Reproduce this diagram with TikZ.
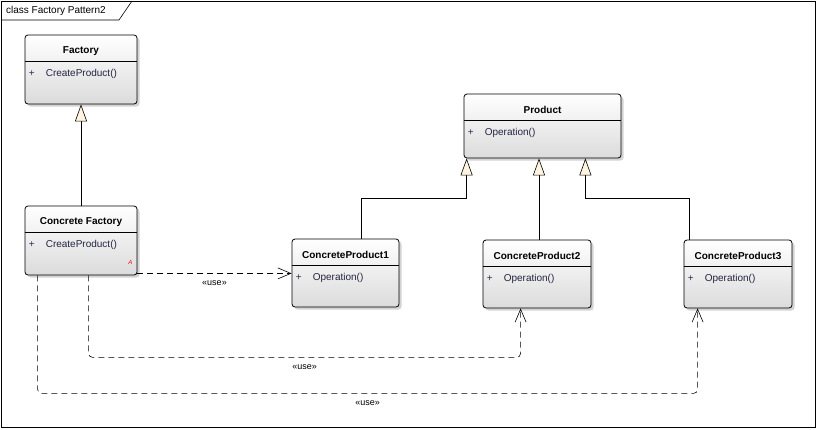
\documentclass[tikz,border=0pt]{standalone}
\usepackage{fontspec}
\setmainfont{Liberation Sans}
\usepackage{tikz}
\usetikzlibrary{positioning,arrows.meta,calc,shadows}

\definecolor{opcol}{RGB}{45,45,80}
\definecolor{cream}{RGB}{255,244,226}

% class box: name, centre x, centre y, width, height, title, operation
\newcommand{\classbox}[7]{%
  \node[cls, minimum width=#4pt, minimum height=#5pt] (#1) at (#2,#3) {};
  \node[clstitle] (#1-t) at ($(#1.north)+(0,16)$) {#6};
  \draw ($(#1.north west)+(0,27)$) -- ($(#1.north east)+(0,27)$);
  \node[opsign] (#1-p) at ($(#1.north west)+(4,39.5)$) {+};
  \node[optext] (#1-o) at ($(#1.north west)+(21,39.5)$) {#7};
}

\begin{document}
\begin{tikzpicture}[
  x=1pt, y=-1pt,
  font=\fontsize{10}{12}\selectfont,
  cls/.style={rectangle, rounded corners=3pt, draw=black, thick,
              top color=white, bottom color=black!14,
              drop shadow={opacity=0.35, shadow xshift=2.5pt, shadow yshift=-2.5pt}},
  clstitle/.style={font=\fontsize{10}{12}\selectfont\bfseries, inner sep=0pt},
  opsign/.style={anchor=west, text=opcol, inner sep=0pt},
  optext/.style={anchor=west, text=opcol!80!black, inner sep=0pt},
  gen/.style={-{Triangle[length=17pt, width=12pt, fill=cream]}, line width=0.6pt},
  dep/.style={-{Straight Barb[length=13pt, width=11pt]}, dashed, line width=0.6pt,
              dash pattern=on 6pt off 4pt, rounded corners=4pt},
  usel/.style={font=\fontsize{9}{11}\selectfont, inner sep=1pt}
]
\useasboundingbox (0,0) rectangle (817,429);

% Frame
\draw[line width=0.6pt] (1,1) rectangle (815,427);
\draw[line width=0.6pt] (1,20) -- (119,20) -- (132,1);
\node[anchor=west, inner sep=0pt] (frametitle) at (6,11) {class Factory Pattern2};

% Classes
\classbox{factory}{81}{69.5}{112}{69}{Factory}{CreateProduct()}
\classbox{cf}{81}{240.5}{112}{69}{Concrete Factory}{CreateProduct()}
\classbox{product}{542.5}{126}{157}{64}{Product}{Operation()}
\classbox{cp1}{345.5}{273}{107}{68}{ConcreteProduct1}{Operation()}
\classbox{cp2}{537}{274}{108}{68}{ConcreteProduct2}{Operation()}
\classbox{cp3}{738}{274}{108}{68}{ConcreteProduct3}{Operation()}

% Abstract mark
\node[text=red, font=\fontsize{6}{7}\selectfont\itshape, inner sep=0pt]
  (cfabs) at ([xshift=-7pt, yshift=13pt]cf.south east) {A};

% Generalizations
\draw[gen] (cf.north) -- (factory.south);
\draw[gen] ([xshift=70pt]cp1.north west) -- ++(0,-40) -| ([xshift=3pt]product.south west);
\draw[gen] ([xshift=2pt]cp2.north) -- ([xshift=2pt]cp2.north |- product.south);
\draw[gen] ([xshift=6pt]cp3.north west) -- ++(0,-41) -| ([xshift=-36pt]product.south east);

% Dependencies
\draw[dep] ([yshift=2pt]cf.south east) -- node[usel, below=6pt] {«use»}
  ([yshift=2pt]cf.south east -| cp1.west);
\draw[dep] ([xshift=64pt]cf.south west) |- node[usel, pos=0.75, below=6pt] {«use»}
  ([xshift=38pt, yshift=-49pt]cp2.south west) -- ([xshift=38pt]cp2.south west);
\draw[dep] ([xshift=13pt]cf.south west) |- node[usel, pos=0.75, below=6pt] {«use»}
  ([xshift=14pt, yshift=-85pt]cp3.south west) -- ([xshift=14pt]cp3.south west);

\end{tikzpicture}
\end{document}
